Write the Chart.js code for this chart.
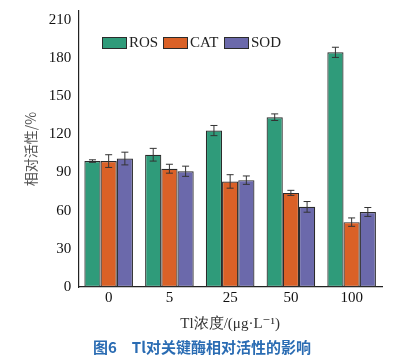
<!DOCTYPE html>
<html>
<head>
<meta charset="utf-8">
<script src="https://cdn.jsdelivr.net/npm/chart.js@4.4.1/dist/chart.umd.min.js"></script>
<style>
  html, body { margin: 0; padding: 0; background: #fff; }
</style>
</head>
<body>
<canvas id="barChart" width="414" height="360"></canvas>
<script>
const categories = ["0", "5", "25", "50", "100"];
const rosValues = [99, 104, 123, 133.5, 184.5];
const catValues = [99, 93, 83, 74, 51];
const sodValues = [101, 91, 84, 63, 59];
const rosErrors = [1, 5, 4, 2.6, 4];
const catErrors = [5, 3.5, 5.3, 2, 3.3];
const sodErrors = [5, 4, 3.3, 4.2, 3.5];
const yTicks = [0, 30, 60, 90, 120, 150, 180, 210];

const serif = "'Liberation Serif', 'DejaVu Serif', serif";
const cjk = "'Noto Sans CJK SC', sans-serif";

// error bars drawn on top of each bar
const errorBars = {
  id: "errorBars",
  afterDatasetsDraw(chart) {
    const ctx = chart.ctx;
    const y = chart.scales.y;
    ctx.save();
    ctx.strokeStyle = "#333";
    ctx.lineWidth = 1;
    chart.data.datasets.forEach((ds, i) => {
      const meta = chart.getDatasetMeta(i);
      meta.data.forEach((bar, j) => {
        const v = ds.data[j];
        const e = ds.errors[j];
        const top = y.getPixelForValue(v + e);
        const bot = y.getPixelForValue(v - e);
        ctx.beginPath();
        ctx.moveTo(bar.x, top);
        ctx.lineTo(bar.x, bot);
        ctx.moveTo(bar.x - 3.5, top);
        ctx.lineTo(bar.x + 3.5, top);
        ctx.moveTo(bar.x - 3.5, bot);
        ctx.lineTo(bar.x + 3.5, bot);
        ctx.stroke();
      });
    });
    ctx.restore();
  },
};

// legend inside the plot, top left
const innerLegend = {
  id: "innerLegend",
  afterDraw(chart) {
    const ctx = chart.ctx;
    const xs = [102, 163, 224];
    const top = 37;
    ctx.save();
    ctx.font = "15px " + serif;
    ctx.textBaseline = "middle";
    chart.data.datasets.forEach((ds, i) => {
      ctx.fillStyle = ds.backgroundColor;
      ctx.fillRect(xs[i], top, 25, 12);
      ctx.strokeStyle = "#2b2b2b";
      ctx.lineWidth = 1;
      ctx.strokeRect(xs[i] + 0.5, top + 0.5, 24, 11);
      ctx.fillStyle = "#222";
      ctx.fillText(ds.label, xs[i] + 27, top + 6.5);
    });
    ctx.restore();
  },
};

const data = {
  labels: categories,
  datasets: [
    { label: "ROS", data: rosValues, errors: rosErrors, backgroundColor: "#2f9b7a" },
    { label: "CAT", data: catValues, errors: catErrors, backgroundColor: "#da6127" },
    { label: "SOD", data: sodValues, errors: sodErrors, backgroundColor: "#6b69ab" },
  ].map((d) => ({
    ...d,
    borderColor: "#2b2b2b",
    borderWidth: 1.2,
    borderSkipped: false,
    categoryPercentage: 0.8,
    barPercentage: 1,
  })),
};

const myChart = new Chart(document.getElementById("barChart").getContext("2d"), {
  type: "bar",
  data,
  plugins: [errorBars, innerLegend],
  options: {
    responsive: false,
    animation: { duration: 0 },
    devicePixelRatio: 1,
    layout: { padding: { left: 22, right: 32, top: 4, bottom: 0 } },
    plugins: {
      legend: { display: false },
      tooltip: { enabled: false },
      title: {
        display: true,
        position: "bottom",
        text: "图6　Tl对关键酶相对活性的影响",
        color: "#2a6cb3",
        font: { family: cjk, size: 15, weight: "bold" },
        padding: { top: 5, bottom: 4 },
      },
    },
    scales: {
      y: {
        min: 0,
        max: 217,
        afterBuildTicks: (axis) => {
          axis.ticks = yTicks.map((v) => ({ value: v }));
        },
        ticks: { autoSkip: false, color: "#111", font: { family: serif, size: 15 }, padding: 2 },
        grid: { display: false, drawOnChartArea: false, drawTicks: true, tickLength: 5, tickColor: "#222" },
        border: { display: true, color: "#222", width: 1.2 },
        title: {
          display: true,
          text: "相对活性/%",
          color: "#555",
          font: { family: cjk, size: 14 },
          padding: { top: 0, bottom: 8 },
        },
      },
      x: {
        ticks: { color: "#111", font: { family: serif, size: 15 }, padding: 2 },
        grid: { display: false, drawTicks: false },
        border: { display: true, color: "#222", width: 1.2 },
        title: {
          display: true,
          text: "Tl浓度/(μg·L⁻¹)",
          color: "#333",
          font: { family: serif, size: 15 },
          padding: { top: 6, bottom: 0 },
        },
      },
    },
  },
});
</script>
</body>
</html>
